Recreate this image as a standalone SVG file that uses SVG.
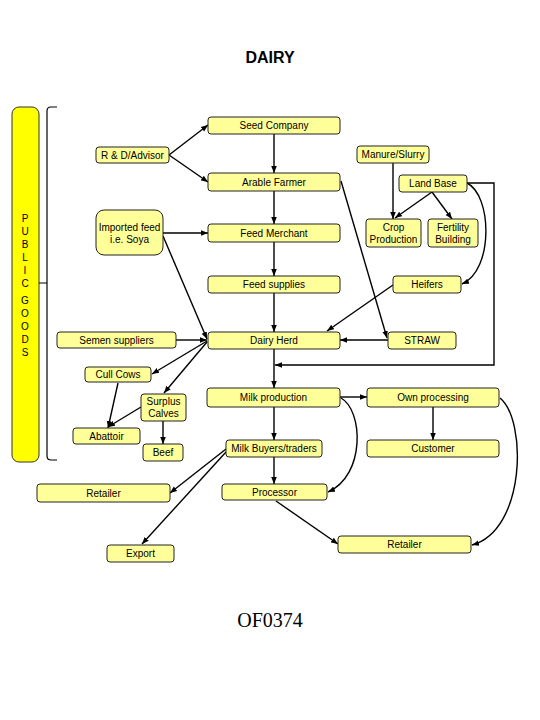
<svg xmlns="http://www.w3.org/2000/svg" width="540" height="720" viewBox="0 0 540 720">
<style>
.n rect{fill:#ffff99;stroke:#222;stroke-width:1}
.n text{font-family:"Liberation Sans",Arial,sans-serif;font-size:10px;fill:#000;text-anchor:middle}
.c path,.c line{fill:none;stroke:#000;stroke-width:1.4}
.t{font-family:"Liberation Sans",Arial,sans-serif;fill:#000;text-anchor:middle}
</style>
<defs>
<marker id="ah" viewBox="0 0 10 10" refX="10" refY="5" markerWidth="7" markerHeight="7" markerUnits="userSpaceOnUse" orient="auto"><path d="M0,1 L10,5 L0,9 z" fill="#000"/></marker>
</defs>
<rect width="540" height="720" fill="#fff"/>
<text class="t" x="270" y="63" font-size="16" font-weight="bold">DAIRY</text>
<text x="270" y="627" font-family="'Liberation Serif','Times New Roman',serif" font-size="20" text-anchor="middle">OF0374</text>

<g id="public-goods">
<rect x="12" y="107" width="27" height="355" rx="7" fill="#ffff00" stroke="#333" stroke-width="1"/>
<g class="t" font-size="10">
<text x="25" y="222">P</text><text x="25" y="235">U</text><text x="25" y="248">B</text><text x="25" y="261">L</text><text x="25" y="274">I</text><text x="25" y="287">C</text>
<text x="25" y="304">G</text><text x="25" y="317">O</text><text x="25" y="330">O</text><text x="25" y="343">D</text><text x="25" y="356">S</text>
</g>
<path d="M57,107 H51 Q47,107 47,111 V456 Q47,460 51,460 H57 M39,283 H47" fill="none" stroke="#000" stroke-width="1.2"/>
</g>

<g class="c" marker-end="url(#ah)">
<line x1="169" y1="155" x2="208" y2="125"/>
<line x1="169" y1="155" x2="208" y2="182"/>
<line x1="274" y1="134" x2="274" y2="173"/>
<line x1="274" y1="191" x2="274" y2="224"/>
<line x1="163" y1="233" x2="208" y2="233"/>
<line x1="163" y1="236" x2="207" y2="339"/>
<line x1="274" y1="242" x2="274" y2="276"/>
<line x1="274" y1="293" x2="274" y2="332"/>
<line x1="176" y1="340" x2="207" y2="340"/>
<line x1="207" y1="341" x2="152" y2="374"/>
<line x1="207" y1="342" x2="164" y2="393"/>
<line x1="393" y1="285" x2="327" y2="331"/>
<line x1="388" y1="340" x2="340" y2="340"/>
<line x1="341" y1="181" x2="387" y2="338"/>
<line x1="393" y1="163" x2="393" y2="219"/>
<line x1="432" y1="192" x2="395" y2="218"/>
<line x1="432" y1="192" x2="452" y2="219"/>
<path d="M467,183 C492,195 494,270 462,284"/>
<path d="M467,183 H494 V365 H275"/>
<line x1="274" y1="349" x2="274" y2="388"/>
<line x1="274" y1="407" x2="274" y2="440"/>
<line x1="340" y1="397" x2="367" y2="397"/>
<path d="M341,398 C363,410 366,475 328,492"/>
<line x1="274" y1="457" x2="274" y2="484"/>
<line x1="433" y1="407" x2="433" y2="440"/>
<path d="M500,398 C527,420 526,530 472,545"/>
<line x1="276" y1="501" x2="338" y2="544"/>
<line x1="226" y1="449" x2="170" y2="493"/>
<line x1="226" y1="452" x2="142" y2="544"/>
<line x1="118" y1="383" x2="108" y2="428"/>
<line x1="141" y1="407" x2="108" y2="427"/>
<line x1="163" y1="421" x2="163" y2="444"/>
</g>

<g id="seed-company" class="n"><rect x="208" y="117" width="132" height="17" rx="3"/><text x="274" y="129">Seed Company</text></g>
<g id="rd-advisor" class="n"><rect x="96" y="147" width="73" height="16" rx="3"/><text x="132.5" y="159">R &amp; D/Advisor</text></g>
<g id="arable-farmer" class="n"><rect x="208" y="173" width="132" height="18" rx="3"/><text x="274" y="186">Arable Farmer</text></g>
<g id="imported-feed" class="n"><rect x="96" y="210" width="67" height="45" rx="8"/><text x="129.5" y="231">Imported feed</text><text x="129.5" y="243">i.e. Soya</text></g>
<g id="feed-merchant" class="n"><rect x="208" y="224" width="132" height="18" rx="3"/><text x="274" y="237">Feed Merchant</text></g>
<g id="feed-supplies" class="n"><rect x="208" y="276" width="132" height="17" rx="3"/><text x="274" y="288">Feed supplies</text></g>
<g id="dairy-herd" class="n"><rect x="208" y="332" width="132" height="17" rx="3"/><text x="274" y="344">Dairy Herd</text></g>
<g id="semen-suppliers" class="n"><rect x="57" y="332" width="119" height="16" rx="3"/><text x="116.5" y="344">Semen suppliers</text></g>
<g id="cull-cows" class="n"><rect x="85" y="367" width="66" height="15" rx="3"/><text x="118" y="378">Cull Cows</text></g>
<g id="surplus-calves" class="n"><rect x="141" y="394" width="45" height="27" rx="3"/><text x="163.5" y="405">Surplus</text><text x="163.5" y="417">Calves</text></g>
<g id="abattoir" class="n"><rect x="73" y="428" width="67" height="16" rx="3"/><text x="106.5" y="440">Abattoir</text></g>
<g id="beef" class="n"><rect x="143" y="444" width="40" height="17" rx="3"/><text x="163" y="456">Beef</text></g>
<g id="milk-production" class="n"><rect x="207" y="388" width="133" height="19" rx="3"/><text x="273.5" y="401">Milk production</text></g>
<g id="own-processing" class="n"><rect x="367" y="388" width="132" height="19" rx="3"/><text x="433" y="401">Own processing</text></g>
<g id="milk-buyers" class="n"><rect x="226" y="440" width="96" height="17" rx="3"/><text x="274" y="452">Milk Buyers/traders</text></g>
<g id="customer" class="n"><rect x="367" y="440" width="132" height="17" rx="3"/><text x="433" y="452">Customer</text></g>
<g id="processor" class="n"><rect x="222" y="484" width="105" height="16" rx="3"/><text x="274.5" y="496">Processor</text></g>
<g id="retailer-right" class="n"><rect x="338" y="536" width="133" height="17" rx="3"/><text x="404.5" y="548">Retailer</text></g>
<g id="retailer-left" class="n"><rect x="37" y="484" width="133" height="18" rx="3"/><text x="103.5" y="497">Retailer</text></g>
<g id="export" class="n"><rect x="107" y="545" width="67" height="17" rx="3"/><text x="140.5" y="557">Export</text></g>
<g id="manure-slurry" class="n"><rect x="357" y="146" width="72" height="17" rx="3"/><text x="393" y="158">Manure/Slurry</text></g>
<g id="land-base" class="n"><rect x="399" y="175" width="68" height="17" rx="3"/><text x="433" y="187">Land Base</text></g>
<g id="crop-production" class="n"><rect x="366" y="219" width="55" height="28" rx="3"/><text x="393.5" y="231">Crop</text><text x="393.5" y="243">Production</text></g>
<g id="fertility-building" class="n"><rect x="428" y="219" width="50" height="28" rx="3"/><text x="453" y="231">Fertility</text><text x="453" y="243">Building</text></g>
<g id="heifers" class="n"><rect x="393" y="276" width="68" height="17" rx="3"/><text x="427" y="288">Heifers</text></g>
<g id="straw" class="n"><rect x="388" y="332" width="68" height="17" rx="3"/><text x="422" y="344">STRAW</text></g>
</svg>
